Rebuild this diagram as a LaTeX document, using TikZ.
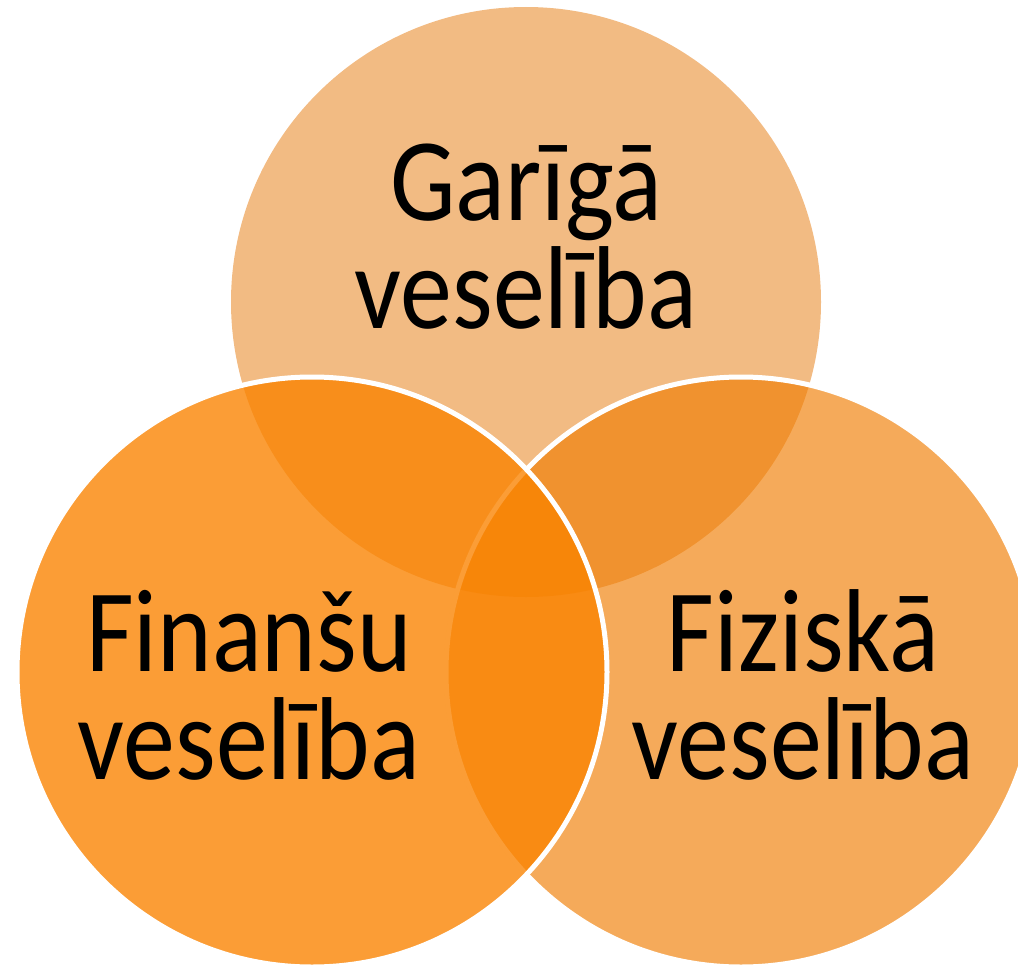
\documentclass[tikz,border=0pt]{standalone}
\usepackage{fontspec}
\setmainfont{Carlito}[FakeStretch=0.88]
\definecolor{topc}{HTML}{F2BB83}
\definecolor{rightc}{HTML}{F07D02}
\definecolor{leftc}{HTML}{FA8300}
\begin{document}
\begin{tikzpicture}[x=1pt,y=-1pt,
  venn/.style={circle, inner sep=0pt, outer sep=0pt, minimum size=590pt},
  rim/.style={draw=white, line width=5pt},
  lbl/.style={align=center, font=\fontsize{118}{108}\selectfont, text=black, inner sep=0pt}]
\useasboundingbox (0,0) rectangle (1018,966);
\node[venn, fill=topc] (spirit) at (526,302) {};
\node[venn, rim, fill=rightc, fill opacity=0.65] (phys) at (741,672) {};
\node[venn, rim, fill=leftc, fill opacity=0.79] (fin) at (312,672) {};
\node[lbl, anchor=base] (tspirit) at (526,328) {Garīgā\\veselība};
\node[lbl, anchor=base] (tfin) at (249,779) {Finanšu\\veselība};
\node[lbl, anchor=base] (tphys) at (803,779) {Fiziskā\\veselība};
\end{tikzpicture}
\end{document}
